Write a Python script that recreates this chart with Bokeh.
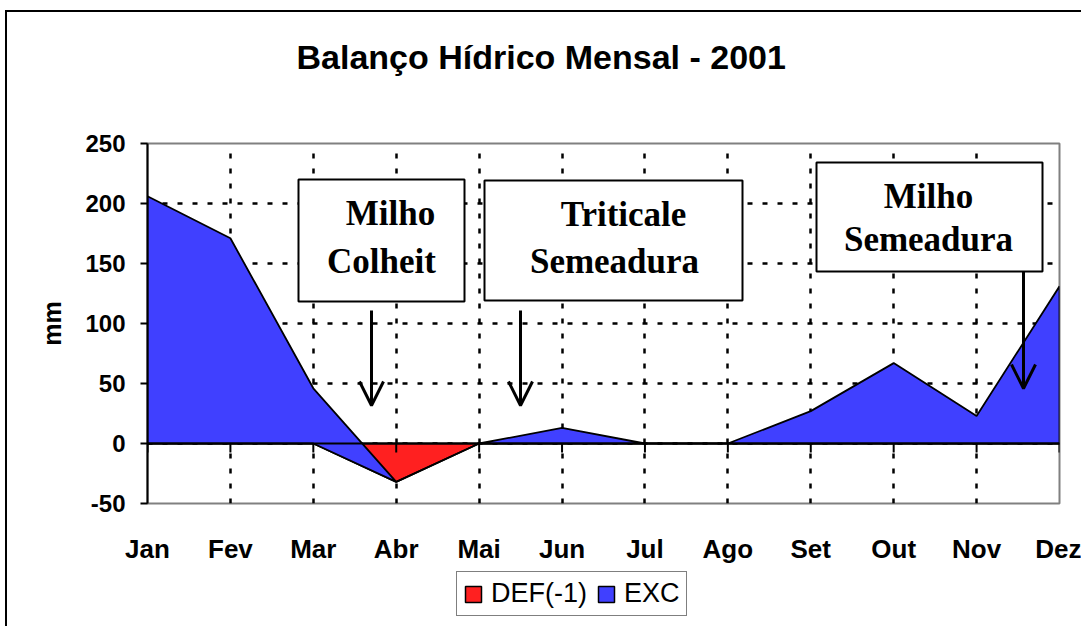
from bokeh.plotting import figure
from bokeh.layouts import column
from bokeh.models import (Range1d, FixedTicker, Span, Label, BoxAnnotation,
                          Arrow, OpenHead, Legend, LegendItem, Title)
from bokeh.embed import file_html
from bokeh.resources import INLINE

# ---------------- data ----------------
MONTHS = ["Jan", "Fev", "Mar", "Abr", "Mai", "Jun", "Jul", "Ago", "Set", "Out", "Nov", "Dez"]
DEF = [0, 0, 0, -32, 0, 0, 0, 0, 0, 0, 0, 0]
EXC = [206, 171, 46, 0, 0, 13, 0, 0, 27, 67, 23, 131]
Y_TICKS = [-50, 0, 50, 100, 150, 200, 250]
SERIES_NAMES = ["DEF(-1)", "EXC"]
TITLE = "Balanço Hídrico Mensal - 2001"
Y_LABEL = "mm"
NOTE_1 = ["Milho", "Colheit"]
NOTE_2 = ["Triticale", "Semeadura"]
NOTE_3 = ["Milho", "Semeadura"]

RED = "#FF2020"
BLUE = "#4040FF"
SANS = "Liberation Sans"
SERIF = "Liberation Serif"

# ---------------- layout (page pixels) ----------------
OFF_X, OFF_Y = 7, 12          # canvas origin on the page (after outer border)
FL, FR, FT, FB = 147, 1059, 143, 503
MAIN_BOTTOM = 565             # page y where the legend strip starts
LEG_BOTTOM = 625              # page y where the legend strip ends
LEG_LEFT, LEG_LOW = 456, 615  # legend box left / bottom edge on the page
X0, X1 = 0, len(MONTHS) - 1
Y0, Y1 = Y_TICKS[0], Y_TICKS[-1]
W = 1074


def dx(px):
    return X0 + (px - FL) / (FR - FL) * (X1 - X0)


def dy(py):
    return Y1 - (py - FT) / (FB - FT) * (Y1 - Y0)


xs = list(range(len(MONTHS)))
exc_top = [d + e for d, e in zip(DEF, EXC)]
red_x = xs + xs[::-1]
red_y = DEF + [0] * len(xs)
blue_x = xs + xs[::-1]
blue_y = exc_top + DEF[::-1]

p = figure(frame_width=FR - FL, frame_height=FB - FT,
           min_border_left=FL - OFF_X, min_border_right=W - (FR - OFF_X),
           min_border_top=FT - OFF_Y, min_border_bottom=MAIN_BOTTOM - FB,
           x_range=Range1d(X0, X1), y_range=Range1d(Y0, Y1),
           output_backend="svg", toolbar_location=None, tools="")
p.background_fill_color = "white"
p.border_fill_color = "white"
p.outline_line_color = "#808080"
p.outline_line_width = 2

# title (outermost) with an empty spacer title between it and the frame
p.title.text = TITLE
p.title.align = "left"
p.title.offset = 149
p.title.standoff = 10
p.title.text_font = SANS
p.title.text_font_style = "bold"
p.title.text_font_size = "34px"
p.title.text_color = "black"
p.add_layout(Title(text=" ", text_font_size="1px", standoff=60), "above")

# axes
p.xaxis.ticker = FixedTicker(ticks=xs)
p.xaxis.major_label_overrides = {i: m for i, m in enumerate(MONTHS)}
p.xaxis.axis_line_color = None
p.xaxis.major_tick_line_color = None
p.xaxis.minor_tick_line_color = None
p.xaxis.major_tick_out = 0
p.xaxis.major_tick_in = 0
p.xaxis.major_label_standoff = 30
p.xaxis.major_label_text_font = SANS
p.xaxis.major_label_text_font_style = "bold"
p.xaxis.major_label_text_font_size = "26px"
p.xaxis.major_label_text_color = "black"

p.yaxis.ticker = FixedTicker(ticks=Y_TICKS)
p.yaxis.major_label_overrides = {t: str(t) for t in Y_TICKS}
p.yaxis.axis_line_color = "black"
p.yaxis.axis_line_width = 2
p.yaxis.major_tick_line_color = "black"
p.yaxis.major_tick_line_width = 2
p.yaxis.major_tick_out = 7
p.yaxis.major_tick_in = 0
p.yaxis.minor_tick_line_color = None
p.yaxis.major_label_standoff = 15
p.yaxis.major_label_text_font = SANS
p.yaxis.major_label_text_font_style = "bold"
p.yaxis.major_label_text_font_size = "24px"
p.yaxis.major_label_text_color = "black"
p.yaxis.axis_label = Y_LABEL
p.yaxis.axis_label_standoff = 16
p.yaxis.axis_label_text_font = SANS
p.yaxis.axis_label_text_font_style = "bold"
p.yaxis.axis_label_text_font_size = "25px"
p.yaxis.axis_label_text_color = "black"

for g in (p.xgrid, p.ygrid):
    g.grid_line_color = "black"
    g.grid_line_width = 2.5
    g.grid_line_dash = "5 10"
p.xgrid.ticker = FixedTicker(ticks=xs)
p.ygrid.ticker = FixedTicker(ticks=Y_TICKS)

# areas (stacked, Excel style)
p.patch(red_x, red_y, fill_color=RED, line_color="black", line_width=1.8)
p.patch(blue_x, blue_y, fill_color=BLUE, line_color="black", line_width=1.8)

# category axis at zero with ticks pointing down
p.add_layout(Span(location=0, dimension="width", line_color="black", line_width=2))
tick_len = 9 * (Y1 - Y0) / (FB - FT)
p.segment(x0=xs, y0=[0] * len(xs), x1=xs, y1=[-tick_len] * len(xs),
          line_color="black", line_width=2)


# annotation boxes
def note(l, r, t, b, lines):
    p.add_layout(BoxAnnotation(left=dx(l), right=dx(r), top=dy(t), bottom=dy(b),
                               fill_color="white", fill_alpha=1,
                               line_color="black", line_alpha=1, line_width=2))
    for (cx, cy), txt in lines:
        p.add_layout(Label(x=dx(cx), y=dy(cy), text=txt, text_align="center",
                           text_baseline="middle", text_font=SERIF,
                           text_font_style="bold", text_font_size="35px",
                           text_color="black"))


note(298, 464, 179, 301, [((390, 213), NOTE_1[0]), ((381, 261), NOTE_1[1])])
note(484, 742, 180, 300, [((623, 214), NOTE_2[0]), ((614, 261), NOTE_2[1])])
note(816, 1042, 162, 271, [((928, 196), NOTE_3[0]), ((928, 239), NOTE_3[1])])

# arrows
for ax, y_a, y_b in [(371, 310, 405), (520, 310, 405), (1023, 271, 388)]:
    p.add_layout(Arrow(x_start=dx(ax), y_start=dy(y_a), x_end=dx(ax), y_end=dy(y_b),
                       line_color="black", line_width=3,
                       end=OpenHead(size=24, line_width=3, line_color="black")))

# legend strip (separate small canvas under the chart, no axes; its
# series patches lie outside its visible range, only the keys show)
leg = figure(width=W, height=LEG_BOTTOM - MAIN_BOTTOM, x_axis_type=None, y_axis_type=None,
             min_border=0, x_range=Range1d(X0 - 20, X0 - 19), y_range=Range1d(Y0, Y1),
             output_backend="svg", toolbar_location=None, tools="")
leg.outline_line_color = None
leg.background_fill_color = "white"
leg.border_fill_color = "white"
k_def = leg.patch(red_x, red_y, fill_color=RED, line_color="black", line_width=1.5)
k_exc = leg.patch(blue_x, blue_y, fill_color=BLUE, line_color="black", line_width=1.5)
legend = Legend(items=[LegendItem(label=SERIES_NAMES[0], renderers=[k_def]),
                       LegendItem(label=SERIES_NAMES[1], renderers=[k_exc])],
                orientation="horizontal",
                location=(LEG_LEFT - FL, LEG_BOTTOM - LEG_LOW),
                glyph_width=20, glyph_height=20, label_standoff=8, spacing=9,
                padding=6, margin=0, border_line_color="black", border_line_width=1.5,
                background_fill_color="white", background_fill_alpha=1,
                label_text_font=SANS, label_text_font_size="27px",
                label_text_color="black")
leg.add_layout(legend, "center")

layout = column(p, leg, spacing=0)
layout.styles = {"margin-left": "5px", "margin-top": "10px",
                 "border-left": "2px solid black", "border-top": "2px solid black"}

open("out.html", "w").write(file_html(layout, INLINE))
